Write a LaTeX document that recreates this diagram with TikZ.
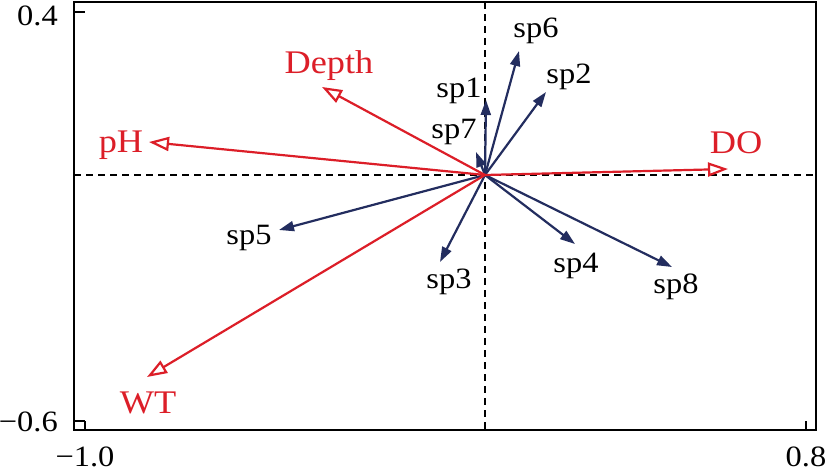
\documentclass[tikz,border=0pt]{standalone}
\usepackage{fontspec}
\setmainfont[FakeStretch=1.1]{Liberation Serif}
\usetikzlibrary{arrows.meta}
\definecolor{envred}{RGB}{220,30,40}
\definecolor{spblue}{RGB}{35,45,95}
\tikzset{
  frameline/.style={line width=2.6pt, black},
  axisdash/.style={line width=2pt, black, dash pattern=on 7pt off 5pt},
  envarrow/.style={line width=2.2pt, envred, -{Triangle[open, fill=white, length=20pt, width=14pt, line width=2.2pt]}},
  sparrow/.style={line width=2.2pt, spblue, -{Triangle[length=15pt, width=10pt]}},
  envlabel/.style={text=envred, font=\fontsize{33}{36}\selectfont, inner sep=0pt, anchor=base},
  splabel/.style={text=black, font=\fontsize{29.5}{32}\selectfont, inner sep=0pt, anchor=base},
  ticklabel/.style={text=black, font=\fontsize{29.5}{32}\selectfont, inner sep=0pt}
}
\begin{document}
\begin{tikzpicture}[x=1pt,y=-1pt]
\useasboundingbox (0,0) rectangle (825,471);
% axes dashed
\coordinate (o) at (485,175);
\coordinate (hl) at (74,175);
\coordinate (hr) at (816,175);
\coordinate (vt) at (485,2);
\coordinate (vb) at (485,430);
\draw[axisdash] (hl) -- (hr);
\draw[axisdash] (vt) -- (vb);
% frame
\draw[frameline] (74,2) rectangle (816,430);
% ticks
\draw[frameline] (74,12) -- (85,12);
\draw[frameline] (74,421) -- (85,421);
\draw[frameline] (85,430) -- (85,421);
\draw[frameline] (806,430) -- (806,421);
\node[ticklabel, anchor=base east] (t04) at (58,25) {0.4};
\node[ticklabel, anchor=base east] (t06) at (58,431) {−0.6};
\node[ticklabel, anchor=base] (t10) at (85,466) {−1.0};
\node[ticklabel, anchor=base] (t08) at (806,466) {0.8};
% arrow tips
\coordinate (depthT) at (322,87);
\coordinate (phT) at (149,142);
\coordinate (doT) at (728,169);
\coordinate (wtT) at (147,377);
\coordinate (sp1T) at (486,100);
\coordinate (sp6T) at (519,51);
\coordinate (sp2T) at (546,92);
\coordinate (sp7T) at (476,152);
\coordinate (sp5T) at (279,230);
\coordinate (sp3T) at (440,262);
\coordinate (sp4T) at (575,244);
\coordinate (sp8T) at (672,267);
% species arrows
\draw[sparrow] (o) -- (sp1T);
\draw[sparrow] (o) -- (sp6T);
\draw[sparrow] (o) -- (sp2T);
\draw[sparrow] (o) -- (sp7T);
\draw[sparrow] (o) -- (sp5T);
\draw[sparrow] (o) -- (sp3T);
\draw[sparrow] (o) -- (sp4T);
\draw[sparrow] (o) -- (sp8T);
% environment arrows
\draw[envarrow] (o) -- (depthT);
\draw[envarrow] (o) -- (phT);
\draw[envarrow] (o) -- (doT);
\draw[envarrow] (o) -- (wtT);
% labels
\node[envlabel] (depth) at (329,73) {Depth};
\node[envlabel] (ph) at (121,152) {pH};
\node[envlabel] (do) at (736,153) {DO};
\node[envlabel] (wt) at (148,413) {WT};
\node[splabel] (sp1) at (459,97) {sp1};
\node[splabel] (sp6) at (536,37) {sp6};
\node[splabel] (sp2) at (569,83) {sp2};
\node[splabel] (sp7) at (454,138) {sp7};
\node[splabel] (sp5) at (249,244) {sp5};
\node[splabel] (sp3) at (449,288) {sp3};
\node[splabel] (sp4) at (576,272) {sp4};
\node[splabel] (sp8) at (676,293) {sp8};
\end{tikzpicture}
\end{document}
